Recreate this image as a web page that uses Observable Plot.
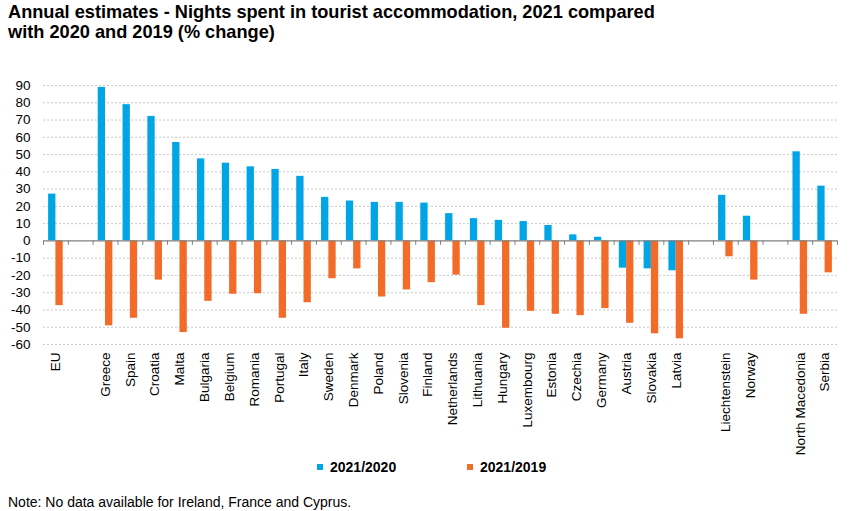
<!DOCTYPE html>
<html>
<head>
<meta charset="utf-8">
<script src="https://cdn.jsdelivr.net/npm/d3@7"></script>
<script src="https://cdn.jsdelivr.net/npm/@observablehq/plot@0.6"></script>
<style>
  body { margin: 0; background: #fff; font-family: "Liberation Sans", Arial, sans-serif; }
  #wrap { position: relative; width: 851px; height: 511px; overflow: hidden; }
  #title { position: absolute; left: 8px; top: 2px; font-weight: bold; font-size: 18.2px; line-height: 20px; color: #000; }
  #chart { position: absolute; left: 0; top: 50px; }
  #legend { position: absolute; top: 459px; left: 0; width: 851px; height: 18px; font-weight: bold; font-size: 14px; color: #000; }
  .item { position: absolute; top: 0; display: flex; align-items: center; }
  .sw { width: 6px; height: 6px; margin-right: 7px; }
  #note { position: absolute; left: 8px; top: 494px; font-size: 14px; color: #000; }
</style>
</head>
<body>
<div id="wrap">
  <div id="title">Annual estimates - Nights spent in tourist accommodation, 2021 compared<br>with 2020 and 2019 (% change)</div>
  <div id="chart"></div>
  <div id="legend">
    <div class="item" style="left:317px"><div class="sw" style="background:#00A5E6"></div>2021/2020</div>
    <div class="item" style="left:467px"><div class="sw" style="background:#F26B28"></div>2021/2019</div>
  </div>
  <div id="note">Note: No data available for Ireland, France and Cyprus.</div>
</div>
<script>
// Categories (blank slots "_1", "_2", "_3" are spacing gaps)
const categories = ["EU", "_1", "Greece", "Spain", "Croatia", "Malta", "Bulgaria", "Belgium", "Romania", "Portugal", "Italy",
  "Sweden", "Denmark", "Poland", "Slovenia", "Finland", "Netherlands", "Lithuania", "Hungary", "Luxembourg",
  "Estonia", "Czechia", "Germany", "Austria", "Slovakia", "Latvia", "_2", "Liechtenstein", "Norway", "_3",
  "North Macedonia", "Serbia"];
const countries = ["EU", "Greece", "Spain", "Croatia", "Malta", "Bulgaria", "Belgium", "Romania", "Portugal", "Italy",
  "Sweden", "Denmark", "Poland", "Slovenia", "Finland", "Netherlands", "Lithuania", "Hungary", "Luxembourg",
  "Estonia", "Czechia", "Germany", "Austria", "Slovakia", "Latvia", "Liechtenstein", "Norway",
  "North Macedonia", "Serbia"];
const change2020 = [27.1, 88.9, 78.9, 72.1, 57.0, 47.5, 45.0, 42.9, 41.4, 37.4,
  25.2, 23.1, 22.3, 22.3, 21.9, 15.8, 12.9, 11.9, 11.2,
  8.9, 3.5, 2.1, -15.8, -16.2, -17.3, 26.4, 14.3, 51.6, 31.7];
const change2019 = [-37.5, -49.2, -44.8, -22.7, -53.1, -35.0, -30.9, -30.6, -44.8, -35.8,
  -21.9, -16.2, -32.5, -28.4, -24.2, -19.8, -37.5, -50.6, -40.8,
  -42.5, -43.3, -39.2, -47.7, -53.8, -56.7, -9.2, -22.7, -42.5, -18.5];
const yTicks = [-60, -50, -40, -30, -20, -10, 0, 10, 20, 30, 40, 50, 60, 70, 80, 90];
const seriesNames = ["2021/2020", "2021/2019"];
const seriesColors = ["#00A5E6", "#F26B28"];

const W = 851, H = 410, mL = 43, mR = 14, mT = 35, mB = 116;
const bw = (W - mL - mR) / categories.length;
const barW = 7.3;

const data = countries.map((c, i) => ({country: c, v2020: change2020[i], v2019: change2019[i]}));

const chart = Plot.plot({
  width: W, height: H,
  marginLeft: mL, marginRight: mR, marginTop: mT, marginBottom: mB,
  style: {fontFamily: "'Liberation Sans', Arial, sans-serif", fontSize: "13px", color: "#000", background: "#fff"},
  x: {domain: categories, padding: 0, round: false, axis: null, label: null},
  y: {domain: [-60, 90], axis: null, label: null},
  marks: [
    Plot.ruleY(yTicks.filter(d => d !== 0), {stroke: "#c8c8c8", strokeDasharray: "2,2", strokeWidth: 1}),
    Plot.axisY({ticks: yTicks, tickSize: 0, tickPadding: 13, fontSize: 13.5, tickFormat: d => d, label: null}),
    Plot.axisX({anchor: "bottom", tickRotate: -90, tickSize: 0, tickPadding: 8, fontSize: 13.5, label: null,
      tickFormat: d => d.startsWith("_") ? "" : d}),
    Plot.barY(data, {x: "country", y: "v2020", fill: seriesColors[0], insetLeft: bw / 2 - barW, insetRight: bw / 2}),
    Plot.barY(data, {x: "country", y: "v2019", fill: seriesColors[1], insetLeft: bw / 2, insetRight: bw / 2 - barW}),
    Plot.ruleY([0], {stroke: "#808080", strokeWidth: 1.2}),
    Plot.ruleX(categories, {x: d => d, y1: 0, y2: -2.6, dx: -bw / 2, stroke: "#808080"}),
    Plot.ruleX([categories[categories.length - 1]], {x: d => d, y1: 0, y2: -2.6, dx: bw / 2, stroke: "#808080"})
  ]
});
document.getElementById("chart").appendChild(chart);
</script>
</body>
</html>
